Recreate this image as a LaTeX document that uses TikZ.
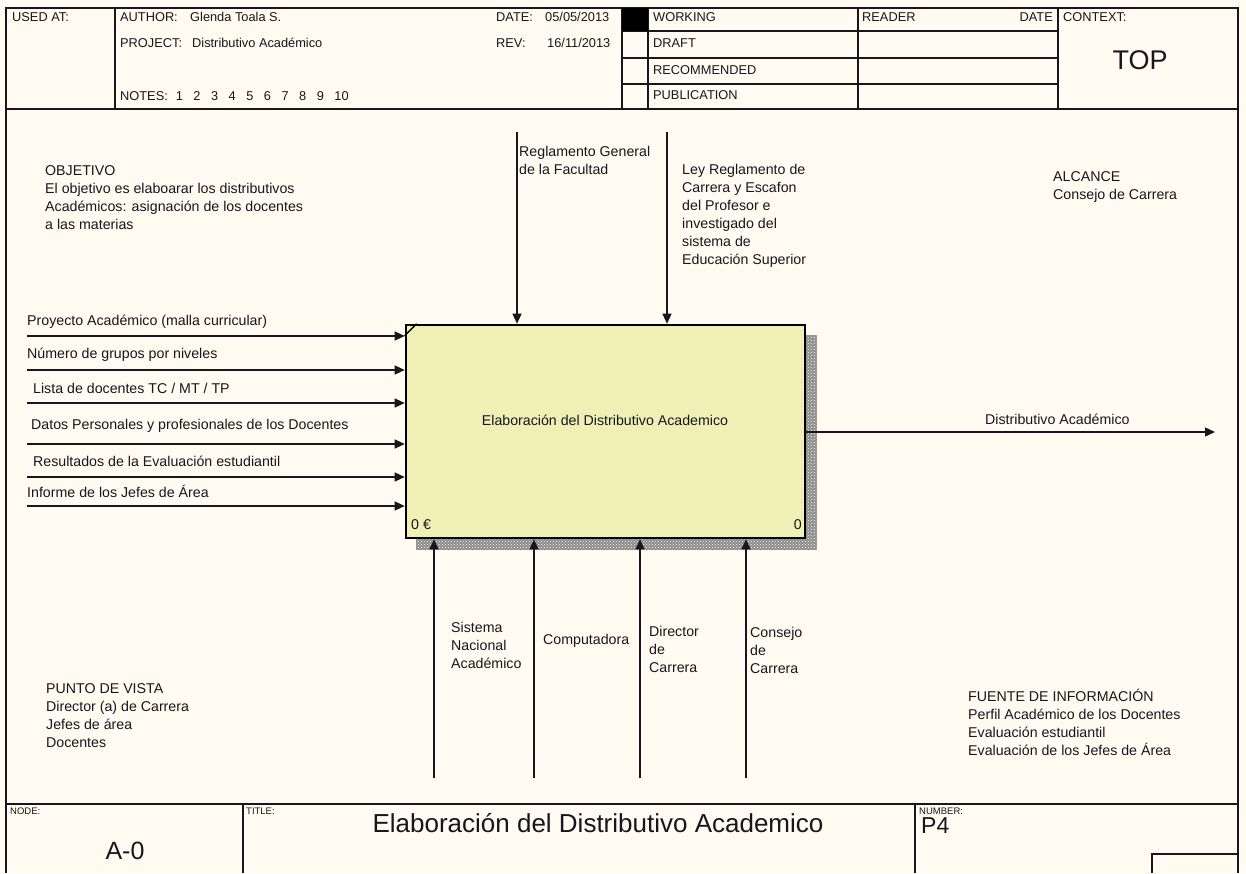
\documentclass[tikz,border=0pt]{standalone}
\usepackage{fontspec}
\setmainfont{Liberation Sans}
\usetikzlibrary{arrows.meta,patterns}
\definecolor{paper}{RGB}{255,251,240}
\definecolor{boxfill}{RGB}{240,240,182}
\definecolor{ink}{RGB}{22,22,30}

\begin{document}
\begin{tikzpicture}[x=1pt,y=-1pt,
  frame/.style={draw=ink,line width=1.4pt},
  lbl/.style={inner sep=0pt,align=left,font=\fontsize{14.2}{18}\selectfont,text=ink},
  hdr/.style={inner sep=0pt,font=\fontsize{12.8}{15}\selectfont,text=ink},
  tinylbl/.style={inner sep=0pt,font=\fontsize{9.5}{11}\selectfont,text=ink},
  big/.style={inner sep=0pt,font=\fontsize{26}{30}\selectfont,text=ink},
  arr/.style={draw=ink,line width=1.3pt,-{Triangle[length=10pt,width=9pt]}},
  procbox/.style={draw=black,line width=2.6pt,fill=boxfill,
    minimum width=399pt,minimum height=213pt,inner sep=0pt}
]
% page background and bounds
\fill[paper] (0,0) rectangle (1246,873);
\useasboundingbox (0,0) rectangle (1246,873);

% ---------- form frame ----------
\draw[frame] (6,873) -- (6,8) -- (1238,8) -- (1238,873);
\draw[frame] (6,109) -- (1238,109);
\draw[frame] (6,804) -- (1238,804);
\foreach \x in {115,622,648,858,1058} \draw[frame] (\x,8) -- (\x,109);
\foreach \y in {31,58,84} \draw[frame] (622,\y) -- (1058,\y);
\fill[black] (622,8) rectangle (648,31);
\draw[frame] (243,804) -- (243,873);
\draw[frame] (915,804) -- (915,873);
\draw[frame] (1152,873) -- (1152,854) -- (1238,854);

% ---------- header texts ----------
\node[hdr,anchor=mid west] (usedat) at (12,19) {USED AT:};
\node[hdr,anchor=mid west] (authork) at (120,19) {AUTHOR:};
\node[hdr,anchor=mid west] (authorv) at (190,19) {Glenda Toala S.};
\node[hdr,anchor=mid west] (projk) at (120,45) {PROJECT:};
\node[hdr,anchor=mid west] (projv) at (192,45) {Distributivo Académico};
\node[hdr,anchor=mid west] (notes) at (120,98) {NOTES:\hspace{8pt}1\hspace{10.5pt}2\hspace{10.5pt}3\hspace{10.5pt}4\hspace{10.5pt}5\hspace{10.5pt}6\hspace{10.5pt}7\hspace{10.5pt}8\hspace{10.5pt}9\hspace{10.5pt}10};
\node[hdr,anchor=mid west] (datek) at (496,19) {DATE:};
\node[hdr,anchor=mid west] (datev) at (545,19) {05/05/2013};
\node[hdr,anchor=mid west] (revk) at (496,45) {REV:};
\node[hdr,anchor=mid west] (revv) at (547,45) {16/11/2013};
\node[hdr,anchor=mid west] (working) at (653,19) {WORKING};
\node[hdr,anchor=mid west] (draft) at (653,45) {DRAFT};
\node[hdr,anchor=mid west] (recom) at (653,72) {RECOMMENDED};
\node[hdr,anchor=mid west] (publ) at (653,97) {PUBLICATION};
\node[hdr,anchor=mid west] (reader) at (862,19) {READER};
\node[hdr,anchor=mid east] (rdate) at (1053,19) {DATE};
\node[hdr,anchor=mid west] (context) at (1063,19) {CONTEXT:};
\node[inner sep=0pt,font=\fontsize{27}{30}\selectfont,text=ink] (top) at (1140,60) {TOP};

% ---------- footer texts ----------
\node[tinylbl,anchor=mid west] (nodek) at (10,812) {NODE:};
\node[tinylbl,anchor=mid west] (titlek) at (246,812) {TITLE:};
\node[tinylbl,anchor=mid west] (numk) at (919,812) {NUMBER:};
\node[inner sep=0pt,font=\fontsize{25}{28}\selectfont,text=ink] (nodev) at (125,851) {A-0};
\node[big] (titlev) at (598,823) {Elaboración del Distributivo Academico};
\node[inner sep=0pt,font=\fontsize{23}{26}\selectfont,text=ink,anchor=mid west] (numv) at (921,831) {P4};

% ---------- free notes ----------
\node[lbl,anchor=north west] (objetivo) at (45,165) {OBJETIVO\\El objetivo es elaboarar los distributivos\\Académicos: asignación de los docentes\\a las materias};
\node[lbl,anchor=north west] (alcance) at (1053,171) {ALCANCE\\Consejo de Carrera};
\node[lbl,anchor=north west] (vista) at (46,683) {PUNTO DE VISTA\\Director (a) de Carrera\\Jefes de área\\Docentes};
\node[lbl,anchor=north west] (fuente) at (968,689) {FUENTE DE INFORMACIÓN\\Perfil Académico de los Docentes\\Evaluación estudiantil\\Evaluación de los Jefes de Área};

% ---------- activity box with hatched shadow ----------
\fill[black!45] (416,335) rectangle (817,550);
\fill[pattern=crosshatch dots,pattern color=paper] (416,335) rectangle (817,550);
\node[procbox] (A0) at (605.5,431.5) {};
\draw[black,line width=1.3pt] ([yshift=-12pt]A0.north west) -- ([xshift=12pt]A0.north west);
\node[lbl] (A0label) at (605,420) {Elaboración del Distributivo Academico};
\node[lbl,anchor=mid west] (cost) at (411,527) {0 €};
\node[lbl,anchor=mid east] (boxnum) at (802,527) {0};

% ---------- inputs ----------
\coordinate (i1) at (27,336);
\coordinate (i2) at (27,370);
\coordinate (i3) at (27,403);
\coordinate (i4) at (27,444);
\coordinate (i5) at (27,477);
\coordinate (i6) at (27,506);
\foreach \c in {i1,i2,i3,i4,i5,i6} \draw[arr] (\c) -- (\c -| A0.west);
\node[lbl,anchor=mid west] (li1) at (27,323) {Proyecto Académico (malla curricular)};
\node[lbl,anchor=mid west] (li2) at (27,356) {Número de grupos por niveles};
\node[lbl,anchor=mid west] (li3) at (33,391) {Lista de docentes TC / MT / TP};
\node[lbl,anchor=mid west] (li4) at (31,427) {Datos Personales y profesionales de los Docentes};
\node[lbl,anchor=mid west] (li5) at (33,464) {Resultados de la Evaluación estudiantil};
\node[lbl,anchor=mid west] (li6) at (27,495) {Informe de los Jefes de Área};

% ---------- controls ----------
\coordinate (c1) at (517,132);
\coordinate (c2) at (667,132);
\draw[arr] (c1) -- (c1 |- A0.north);
\draw[arr] (c2) -- (c2 |- A0.north);
\node[lbl,anchor=north west] (lc1) at (519,146) {Reglamento General\\de la Facultad};
\node[lbl,anchor=north west] (lc2) at (682,164) {Ley Reglamento de\\Carrera y Escafon\\del Profesor e\\investigado del\\sistema de\\Educación Superior};

% ---------- output ----------
\coordinate (o1) at (1215,432);
\draw[arr] (o1 -| A0.east) -- (o1);
\node[lbl,anchor=mid west] (lo1) at (985,422) {Distributivo Académico};

% ---------- mechanisms ----------
\coordinate (m1) at (434,778);
\coordinate (m2) at (534,778);
\coordinate (m3) at (640,778);
\coordinate (m4) at (746,778);
\foreach \c in {m1,m2,m3,m4} \draw[arr] (\c) -- (\c |- A0.south);
\node[lbl,anchor=north west] (lm1) at (451,622) {Sistema\\Nacional\\Académico};
\node[lbl,anchor=mid west] (lm2) at (543,642) {Computadora};
\node[lbl,anchor=north west] (lm3) at (649,626) {Director\\de\\Carrera};
\node[lbl,anchor=north west] (lm4) at (750,627) {Consejo\\de\\Carrera};
\end{tikzpicture}
\end{document}
